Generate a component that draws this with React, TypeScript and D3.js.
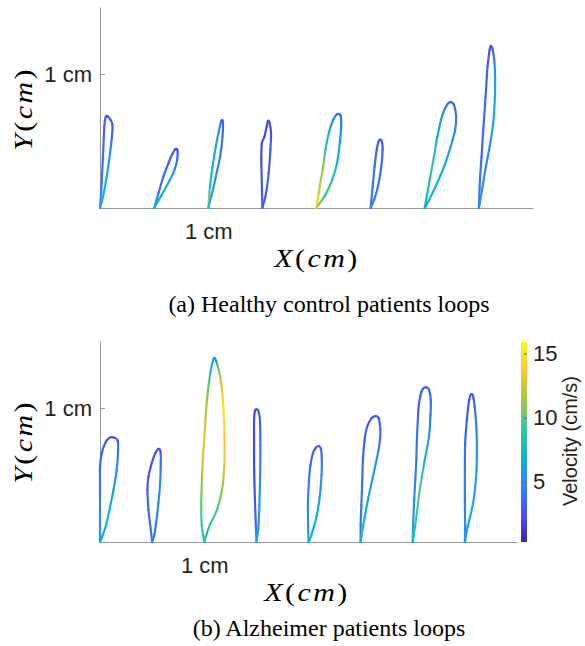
import React, { useEffect, useRef } from 'react';
import * as d3 from 'd3';

// x offset of each loop start (cm)
const loopStarts = [0, 0.5, 1, 1.5, 2, 2.5, 3, 3.5];

// loop points: [dx from start (cm), y (cm), velocity (cm/s)]
const healthy1 = [[0, 0, 6], [0.015, 0.185, 4], [0.03, 0.43, 3.5], [0.04, 0.61, 3], [0.053, 0.68, 2.5], [0.07, 0.685, 2.5], [0.095, 0.66, 2.5], [0.115, 0.62, 3], [0.11, 0.53, 3.5], [0.093, 0.41, 5], [0.062, 0.235, 7], [0.028, 0.085, 7], [0, 0, 6]];
const healthy2 = [[0, 0, 6], [0.04, 0.11, 4], [0.086, 0.235, 3.5], [0.133, 0.335, 3], [0.173, 0.41, 3], [0.197, 0.44, 2.5], [0.216, 0.43, 2.5], [0.213, 0.36, 3.5], [0.188, 0.285, 5], [0.139, 0.2, 6.5], [0.071, 0.1, 7], [0, 0, 7]];
const healthy3 = [[0, 0, 14], [0.016, 0.16, 8], [0.04, 0.31, 7], [0.07, 0.46, 6.5], [0.1, 0.58, 5], [0.12, 0.65, 3.5], [0.135, 0.645, 3], [0.132, 0.535, 3.5], [0.11, 0.385, 4], [0.07, 0.235, 5], [0.033, 0.1, 6], [0, 0, 7]];
const healthy4 = [[0, 0, 3], [-0.005, 0.185, 2.5], [-0.01, 0.36, 2], [-0.005, 0.48, 2], [0.02, 0.535, 2], [0.043, 0.62, 2], [0.052, 0.65, 2], [0.065, 0.64, 2], [0.08, 0.56, 2.5], [0.074, 0.435, 3], [0.058, 0.26, 3], [0.034, 0.11, 3], [0, 0, 3]];
const healthy5 = [[0, 0, 15], [0.03, 0.16, 12], [0.062, 0.31, 11], [0.083, 0.435, 9], [0.114, 0.56, 7], [0.155, 0.66, 5], [0.19, 0.7, 4], [0.222, 0.69, 3.5], [0.228, 0.61, 4.5], [0.215, 0.485, 6], [0.19, 0.335, 7], [0.145, 0.21, 8], [0.083, 0.1, 9], [0.02, 0.025, 11], [0, 0, 13]];
const healthy6 = [[0, 0, 4], [0.019, 0.16, 4], [0.037, 0.31, 3.5], [0.056, 0.435, 3], [0.071, 0.49, 2.5], [0.086, 0.51, 2.5], [0.105, 0.495, 2.5], [0.111, 0.435, 3], [0.099, 0.31, 3.5], [0.068, 0.16, 4], [0.031, 0.06, 4], [0, 0, 4]];
const healthy7 = [[0, 0, 7], [0.04, 0.185, 8], [0.08, 0.36, 9], [0.117, 0.535, 7], [0.163, 0.695, 5], [0.21, 0.775, 3.5], [0.24, 0.79, 3], [0.27, 0.77, 3], [0.29, 0.68, 4], [0.28, 0.58, 5], [0.24, 0.46, 6], [0.18, 0.31, 7], [0.1, 0.16, 7.5], [0.04, 0.06, 7], [0, 0, 6]];
const healthy8 = [[0, 0, 4], [0.01, 0.21, 4], [0.025, 0.385, 3.5], [0.04, 0.58, 3.5], [0.062, 0.83, 3.5], [0.08, 1.055, 3], [0.099, 1.18, 2.5], [0.11, 1.21, 2.5], [0.127, 1.185, 3], [0.142, 1.105, 4.5], [0.15, 0.98, 6], [0.148, 0.83, 7], [0.132, 0.63, 6.5], [0.1, 0.46, 5], [0.065, 0.31, 4.5], [0.034, 0.16, 5], [0.012, 0.05, 6], [0, 0, 5]];

const alz1 = [[0, 0, 6], [0, 0.19, 5], [0, 0.44, 4], [0, 0.56, 3.5], [0.016, 0.66, 3], [0.048, 0.735, 3], [0.086, 0.775, 2.5], [0.13, 0.78, 2.5], [0.17, 0.755, 3], [0.173, 0.67, 4], [0.16, 0.54, 5], [0.13, 0.39, 6], [0.096, 0.26, 7], [0.058, 0.125, 7], [0.02, 0.037, 6.5], [0, 0, 6]];
const alz2 = [[0, 0, 4], [-0.02, 0.14, 3.5], [-0.035, 0.24, 3.5], [-0.045, 0.39, 3], [-0.035, 0.49, 2.5], [-0.003, 0.59, 2.5], [0.029, 0.66, 2.5], [0.06, 0.695, 2.5], [0.08, 0.675, 3], [0.083, 0.59, 4], [0.077, 0.44, 5], [0.06, 0.29, 5], [0.038, 0.14, 4.5], [0.02, 0.05, 4], [0, 0, 4]];
const alz3 = [[0, 0, 8], [-0.024, 0.127, 9], [-0.029, 0.276, 10], [-0.024, 0.425, 11], [-0.016, 0.587, 12.5], [0.003, 0.81, 13], [0.026, 1.06, 11], [0.058, 1.26, 8.5], [0.086, 1.36, 6], [0.1, 1.373, 5], [0.115, 1.35, 6], [0.134, 1.3, 10], [0.163, 1.185, 13], [0.185, 0.985, 15], [0.195, 0.786, 14], [0.192, 0.562, 13], [0.17, 0.388, 11], [0.122, 0.239, 9.5], [0.058, 0.134, 8.5], [0.019, 0.052, 8], [0, 0, 8]];
const alz4 = [[0, 0, 8], [-0.005, 0.127, 3], [-0.014, 0.313, 2.5], [-0.021, 0.537, 2], [-0.022, 0.76, 2], [-0.022, 0.91, 2], [-0.014, 0.978, 2], [0, 0.99, 2], [0.019, 0.978, 2.5], [0.034, 0.91, 3], [0.038, 0.724, 4], [0.036, 0.5, 5], [0.029, 0.276, 5.5], [0.019, 0.104, 6], [0, 0, 7]];
const alz5 = [[0, 0, 7], [-0.005, 0.164, 5], [-0.005, 0.313, 5], [0.005, 0.463, 4], [0.019, 0.575, 3.5], [0.043, 0.664, 3], [0.072, 0.705, 3], [0.099, 0.716, 3], [0.12, 0.694, 3], [0.128, 0.612, 4], [0.125, 0.5, 5], [0.108, 0.338, 6], [0.077, 0.189, 7], [0.043, 0.09, 7], [0.014, 0.022, 7], [0, 0, 7]];
const alz6 = [[0, 0, 4], [0, 0.127, 4], [0.007, 0.276, 4], [0.014, 0.425, 4], [0.022, 0.612, 3.5], [0.038, 0.761, 3], [0.062, 0.858, 3], [0.103, 0.923, 2.5], [0.144, 0.94, 2.5], [0.173, 0.925, 3], [0.189, 0.836, 3.5], [0.185, 0.761, 4], [0.166, 0.662, 5], [0.118, 0.487, 6], [0.07, 0.313, 6.5], [0.034, 0.164, 7], [0.01, 0.052, 8], [0, 0, 6]];
const alz7 = [[0, 0, 7], [0.003, 0.127, 6], [0.014, 0.313, 5], [0.024, 0.463, 4.5], [0.034, 0.612, 4], [0.041, 0.786, 4], [0.051, 0.948, 3.5], [0.06, 1.035, 3], [0.083, 1.122, 3], [0.106, 1.149, 2.5], [0.131, 1.154, 2.5], [0.156, 1.138, 3], [0.173, 1.06, 3.5], [0.17, 0.948, 4], [0.156, 0.786, 6], [0.115, 0.612, 7.5], [0.067, 0.388, 10], [0.035, 0.189, 9], [0.01, 0.052, 8], [0, 0, 7]];
const alz8 = [[0, 0, 5], [0.002, 0.127, 5], [0, 0.291, 4.5], [0, 0.537, 4], [0.003, 0.739, 3.5], [0.019, 0.91, 3], [0.041, 1.06, 2.5], [0.064, 1.104, 2.5], [0.083, 1.072, 3], [0.106, 0.91, 4], [0.115, 0.737, 5.5], [0.112, 0.537, 6], [0.089, 0.338, 6.5], [0.058, 0.214, 7], [0.026, 0.112, 6.5], [0.01, 0.045, 6], [0, 0, 5]];

const healthyLoops = [healthy1, healthy2, healthy3, healthy4, healthy5, healthy6, healthy7, healthy8];
const alzheimerLoops = [alz1, alz2, alz3, alz4, alz5, alz6, alz7, alz8];

const xTicks = [1];
const yTicks = [1];
const velocityTicks = [5, 10, 15];
const velocityDomain = [0.3, 15.9];
const parula = ['#3e26a8', '#4852f4', '#2d87f7', '#12b1d6', '#37c897', '#abc739', '#fec338', '#f9fb15'];

const sans = "'Liberation Sans', Arial, sans-serif";
const serif = "'Liberation Serif', 'Times New Roman', serif";

export default function App() {
    const ref = useRef(null);

    useEffect(() => {
        const svg = d3.select(ref.current);
        svg.selectAll('*').remove();
        const defs = svg.append('defs');
        const color = d3.scaleSequential(d3.piecewise(d3.interpolateRgb, parula)).domain(velocityDomain);
        let gid = 0;

        const drawPanel = (loops, xRange, yRange, labels) => {
            const x = d3.scaleLinear().domain([0, 4]).range(xRange);
            const y = d3.scaleLinear().domain([0, 1.5]).range(yRange);
            const g = svg.append('g');

            const yAxis = g.append('g')
                .attr('transform', `translate(${xRange[0]},0)`)
                .call(d3.axisLeft(y).tickValues(yTicks).tickFormat(() => '1 cm').tickSizeInner(-5).tickSizeOuter(0).tickPadding(8));
            const xAxis = g.append('g')
                .attr('transform', `translate(0,${yRange[0]})`)
                .call(d3.axisBottom(x).tickValues(xTicks).tickFormat(() => '1 cm').tickSizeInner(-5).tickSizeOuter(0).tickPadding(15));
            [yAxis, xAxis].forEach((a) => {
                a.select('.domain').attr('stroke', '#999');
                a.selectAll('.tick line').attr('stroke', '#999');
                a.selectAll('.tick text').attr('fill', '#222').attr('font-size', 22).attr('font-family', sans);
            });

            loops.forEach((loop, li) => {
                const pts = loop.map((d) => [x(loopStarts[li] + d[0]), y(d[1]), d[2]]);
                const n = pts.length;
                for (let i = 0; i < n - 1; i++) {
                    const p0 = pts[Math.max(i - 1, 0)];
                    const p1 = pts[i];
                    const p2 = pts[i + 1];
                    const p3 = pts[Math.min(i + 2, n - 1)];
                    const path = d3.path();
                    path.moveTo(p1[0], p1[1]);
                    path.bezierCurveTo(
                        p1[0] + (p2[0] - p0[0]) / 6, p1[1] + (p2[1] - p0[1]) / 6,
                        p2[0] - (p3[0] - p1[0]) / 6, p2[1] - (p3[1] - p1[1]) / 6,
                        p2[0], p2[1]
                    );
                    const id = `seg${gid++}`;
                    const grad = defs.append('linearGradient')
                        .attr('id', id)
                        .attr('gradientUnits', 'userSpaceOnUse')
                        .attr('x1', p1[0]).attr('y1', p1[1])
                        .attr('x2', p2[0]).attr('y2', p2[1] + 0.01);
                    grad.append('stop').attr('offset', 0).attr('stop-color', color(p1[2]));
                    grad.append('stop').attr('offset', 1).attr('stop-color', color(p2[2]));
                    g.append('path')
                        .attr('d', path.toString())
                        .attr('fill', 'none')
                        .attr('stroke', `url(#${id})`)
                        .attr('stroke-width', 2.2)
                        .attr('stroke-linecap', 'round');
                }
            });

            // latex-style axis labels, a little wider than the font
            const yl = g.append('text')
                .attr('transform', `translate(${labels.yLabel[0]},${labels.yLabel[1]}) rotate(-90) scale(1.2,1)`)
                .attr('text-anchor', 'middle')
                .attr('font-family', serif)
                .attr('font-size', 25)
                .attr('letter-spacing', 2);
            const xl = g.append('text')
                .attr('transform', `translate(${labels.xLabel[0]},${labels.xLabel[1]}) scale(1.2,1)`)
                .attr('text-anchor', 'middle')
                .attr('font-family', serif)
                .attr('font-size', 25)
                .attr('letter-spacing', 2);
            [[yl, 'Y'], [xl, 'X']].forEach(([t, v]) => {
                t.append('tspan').attr('font-style', 'italic').text(v);
                t.append('tspan').text('(');
                t.append('tspan').attr('font-style', 'italic').text('cm');
                t.append('tspan').text(')');
            });

            g.append('text')
                .attr('x', 329)
                .attr('y', labels.caption[1])
                .attr('text-anchor', 'middle')
                .attr('font-family', serif)
                .attr('font-size', 24)
                .text(labels.caption[0]);
        };

        drawPanel(healthyLoops, [100, 533], [208, 7], {
            yLabel: [32, 109],
            xLabel: [317, 267],
            caption: ['(a) Healthy control patients loops', 312],
        });
        drawPanel(alzheimerLoops, [100, 517], [542, 341], {
            yLabel: [32, 442],
            xLabel: [307, 601],
            caption: ['(b) Alzheimer patients loops', 636],
        });

        // colorbar
        const cy = d3.scaleLinear().domain(velocityDomain).range([542, 342]);
        const cb = defs.append('linearGradient')
            .attr('id', 'cbar')
            .attr('x1', 0).attr('y1', 1).attr('x2', 0).attr('y2', 0);
        parula.forEach((c, i) => {
            cb.append('stop').attr('offset', i / (parula.length - 1)).attr('stop-color', c);
        });
        svg.append('rect')
            .attr('x', 521)
            .attr('y', cy(velocityDomain[1]))
            .attr('width', 6)
            .attr('height', cy(velocityDomain[0]) - cy(velocityDomain[1]))
            .attr('fill', 'url(#cbar)');
        const cAxis = svg.append('g')
            .attr('transform', 'translate(527,0)')
            .call(d3.axisRight(cy).tickValues(velocityTicks).tickSizeInner(-3).tickSizeOuter(0).tickPadding(6));
        cAxis.select('.domain').remove();
        cAxis.selectAll('.tick line').attr('stroke', '#666');
        cAxis.selectAll('.tick text').attr('fill', '#222').attr('font-size', 22).attr('font-family', sans);
        svg.append('text')
            .attr('transform', 'translate(577,441) rotate(-90)')
            .attr('text-anchor', 'middle')
            .attr('font-family', sans)
            .attr('font-size', 20)
            .attr('fill', '#222')
            .text('Velocity (cm/s)');
    }, []);

    return (
        <svg
            ref={ref}
            width={585}
            height={646}
            style={{ position: 'absolute', left: 0, top: 0, background: '#fff' }}
        />
    );
}
